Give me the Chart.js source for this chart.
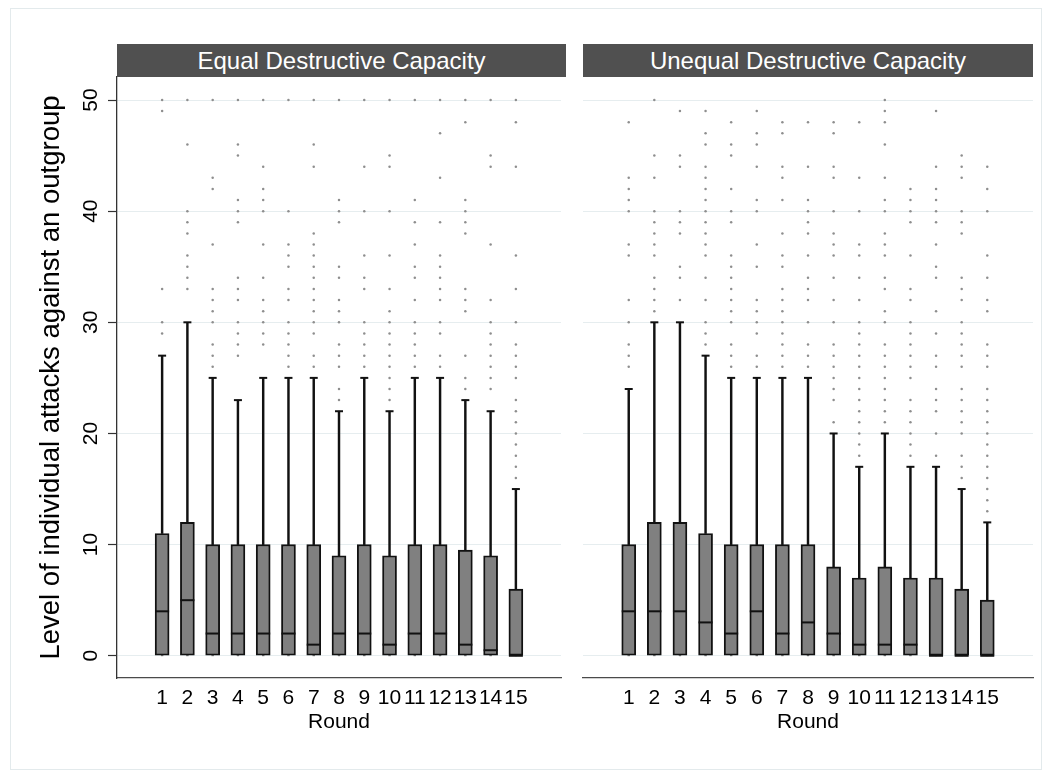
<!DOCTYPE html>
<html><head><meta charset="utf-8">
<script src="https://cdn.jsdelivr.net/npm/chart.js@4.4.1/dist/chart.umd.min.js"></script>
<style>
html,body{margin:0;padding:0;background:#fff;}
#wrap{position:relative;width:1052px;height:771px;overflow:hidden;font-family:'Liberation Sans',Arial,Helvetica,sans-serif;}
#frame{position:absolute;left:10px;top:8px;width:1032px;height:762px;border:1px solid #e3eaec;box-sizing:border-box;}
canvas{position:absolute;top:0;}
.hdr{position:absolute;top:44px;height:33px;background:#505050;color:#fff;font-size:24px;line-height:33px;text-align:center;white-space:nowrap;}
</style></head>
<body><div id="wrap">
<div id="frame"></div>
<canvas id="cL" width="570" height="771" style="left:0px"></canvas>
<canvas id="cR" width="586" height="771" style="left:466px"></canvas>
<div class="hdr" style="left:117px;width:449px">Equal Destructive Capacity</div>
<div class="hdr" style="left:583px;width:450px">Unequal Destructive Capacity</div>
</div>
<script>
// ---- data ----
const rounds = [1,2,3,4,5,6,7,8,9,10,11,12,13,14,15];
const roundLabels = ['1','2','3','4','5','6','7','8','9','10','11','12','13','14','15'];
const yTickValues = [0,10,20,30,40,50];
const yTickLabels = ['0','10','20','30','40','50'];

// Equal Destructive Capacity
const eqLower  = [0,0,0,0,0,0,0,0,0,0,0,0,0,0,0];
const eqQ1     = [0,0,0,0,0,0,0,0,0,0,0,0,0,0,0];
const eqMedian = [4,5,2,2,2,2,1,2,2,1,2,2,1,0.5,0];
const eqQ3     = [11,12,10,10,10,10,10,9,10,9,10,10,9.5,9,6];
const eqUpper  = [27,30,25,23,25,25,25,22,25,22,25,25,23,22,15];
const eqOutliers = [
  [50,49,33,30,29],
  [50,46,40,39,38,36,35,34,33],
  [50,43,42,37,33,32,31,30,28,27,26],
  [50,46,45,41,40,39,34,33,32,30,29,28,27],
  [50,44,42,41,40,37,34,32,31,30,29,28],
  [50,40,37,36,35,33,32,30,29,28,27,26],
  [50,46,44,38,37,36,35,34,33,32,31,30,29,27,26],
  [50,41,40,39,35,34,32,31,30,28,27,26,24,23],
  [50,44,40,36,34,33,30,29,28,27,26],
  [50,45,44,40,36,33,31,30,29,28,27,26,25,24,23],
  [50,41,39,37,35,34,32,30,29,28,27,26],
  [50,47,43,39,36,35,34,33,32,30,29,27,26],
  [50,48,41,40,39,38,33,32,31,27,25,24],
  [50,45,44,37,32,30,29,28,27,26,25,24],
  [50,48,44,36,33,30,28,27,26,25,23,22,21,20,19,18,17,16]
];

// Unequal Destructive Capacity
const unLower  = [0,0,0,0,0,0,0,0,0,0,0,0,0,0,0];
const unQ1     = [0,0,0,0,0,0,0,0,0,0,0,0,0,0,0];
const unMedian = [4,4,4,3,2,4,2,3,2,1,1,1,0,0,0];
const unQ3     = [10,12,12,11,10,10,10,10,8,7,8,7,7,6,5];
const unUpper  = [24,30,30,27,25,25,25,25,20,17,20,17,17,15,12];
const unOutliers = [
  [48,43,42,41,40,37,36,32,30,28,27,26],
  [50,45,43,40,39,38,37,36,34,33,32,31],
  [49,45,44,40,39,38,35,34,32],
  [49,47,46,44,43,42,41,40,39,38,37,36,34,32,30,29,28],
  [48,46,45,42,40,39,36,35,34,33,32,31,30,28,27,26],
  [49,47,46,44,41,40,37,35,32,31,30,29,27,26],
  [48,47,44,43,41,38,36,35,33,32,31,30,29,28,27,26],
  [48,44,41,40,39,38,36,34,33,32,30,28,27,26],
  [48,47,44,43,40,38,37,36,34,32,30,28,27,26,25,24,23,21],
  [48,43,40,37,36,34,32,30,29,28,27,26,25,24,23,22,21,20,19,18],
  [50,49,48,46,43,41,40,38,37,36,34,33,31,30,28,27,26,25,24,23,22,21],
  [42,41,40,39,36,33,32,30,29,28,27,26,25,23,22,21,20,19,18],
  [49,44,42,41,40,39,37,35,34,31,29,27,26,24,23,22,20,18],
  [45,44,43,40,39,38,34,33,32,30,29,28,27,26,24,23,22,21,20,18,17,16],
  [44,42,40,36,34,32,31,28,27,26,24,23,22,21,20,19,18,17,16,15,14,13]
];

Chart.defaults.font.family = "'Liberation Sans', Arial, Helvetica, sans-serif";
Chart.defaults.color = '#000';

function makePanel(id, d, isLeft, padRight) {
  const pts = [];
  d.outliers.forEach((arr, i) => arr.forEach(v => pts.push({x: rounds[i], y: v})));
  const datasets = [
    { type: 'scatter', data: pts, pointRadius: 1.25, pointBackgroundColor: '#8e8e8e',
      pointBorderWidth: 0, showLine: false, order: 6 },
    { type: 'bar', data: rounds.map((r, i) => ({x: r, y: [d.q3[i], d.upper[i]]})),
      barThickness: 1.8, backgroundColor: '#111', borderWidth: 0, grouped: false, order: 5 },
    { type: 'bar', data: rounds.map((r, i) => ({x: r, y: [d.lower[i], d.q1[i]]})),
      barThickness: 1.8, backgroundColor: '#111', borderWidth: 0, grouped: false, order: 4 },
    { type: 'bar', data: rounds.map((r, i) => ({x: r, y: [d.q1[i], d.q3[i]]})),
      barThickness: 14, backgroundColor: '#808080', borderColor: '#111', borderWidth: 1.9,
      borderSkipped: false, grouped: false, order: 3 },
    { type: 'scatter', data: rounds.map((r, i) => ({x: r, y: d.upper[i]})),
      pointStyle: 'line', pointRadius: 4, pointBorderWidth: 2, pointBorderColor: '#111',
      showLine: false, order: 2 },
    { type: 'scatter', data: rounds.map((r, i) => ({x: r, y: d.median[i]})),
      pointStyle: 'line', pointRadius: 7, pointBorderWidth: 2, pointBorderColor: '#111',
      showLine: false, order: 1 }
  ];
  new Chart(document.getElementById(id), {
    type: 'bar',
    data: { datasets },
    options: {
      responsive: false, animation: false, events: [],
      layout: { padding: { left: 0, right: padRight, top: 77, bottom: 0 } },
      plugins: { legend: { display: false }, tooltip: { enabled: false }, title: { display: false } },
      scales: {
        x: {
          type: 'linear', min: -0.2, max: 16.2,
          afterBuildTicks: s => { s.ticks = rounds.map(v => ({value: v})); },
          afterFit: s => { s.height = 93; },
          grid: { display: false, drawTicks: false },
          border: { display: true, color: '#4a4a4a', width: 1.3 },
          ticks: { autoSkip: false, maxRotation: 0, minRotation: 0, padding: 8, color: '#000',
                   font: { size: 21 }, callback: (v, i) => roundLabels[i] },
          title: { display: true, text: 'Round', color: '#000', font: { size: 21 },
                   padding: { top: 0, bottom: 36 } }
        },
        y: {
          type: 'linear', min: -2.0, max: 52.07,
          afterBuildTicks: s => { s.ticks = yTickValues.map(v => ({value: v})); },
          afterFit: s => { s.width = 117; },
          grid: { color: '#e6edef', lineWidth: 1, drawTicks: isLeft, tickLength: 9,
                  tickColor: '#333', tickWidth: 1.2 },
          border: { display: isLeft, color: '#333', width: 1.3 },
          ticks: { display: isLeft, minRotation: 90, maxRotation: 90, crossAlign: 'center',
                   padding: 5, color: '#000', font: { size: 21 }, callback: (v, i) => yTickLabels[i] },
          title: { display: isLeft, text: 'Level of individual attacks against an outgroup',
                   color: '#000', font: { size: 27.5 }, padding: { top: 35, bottom: 0 } }
        }
      }
    }
  });
}

makePanel('cL', {lower: eqLower, q1: eqQ1, median: eqMedian, q3: eqQ3, upper: eqUpper, outliers: eqOutliers}, true, 4);
makePanel('cR', {lower: unLower, q1: unQ1, median: unMedian, q3: unQ3, upper: unUpper, outliers: unOutliers}, false, 19);
</script>
</body></html>
